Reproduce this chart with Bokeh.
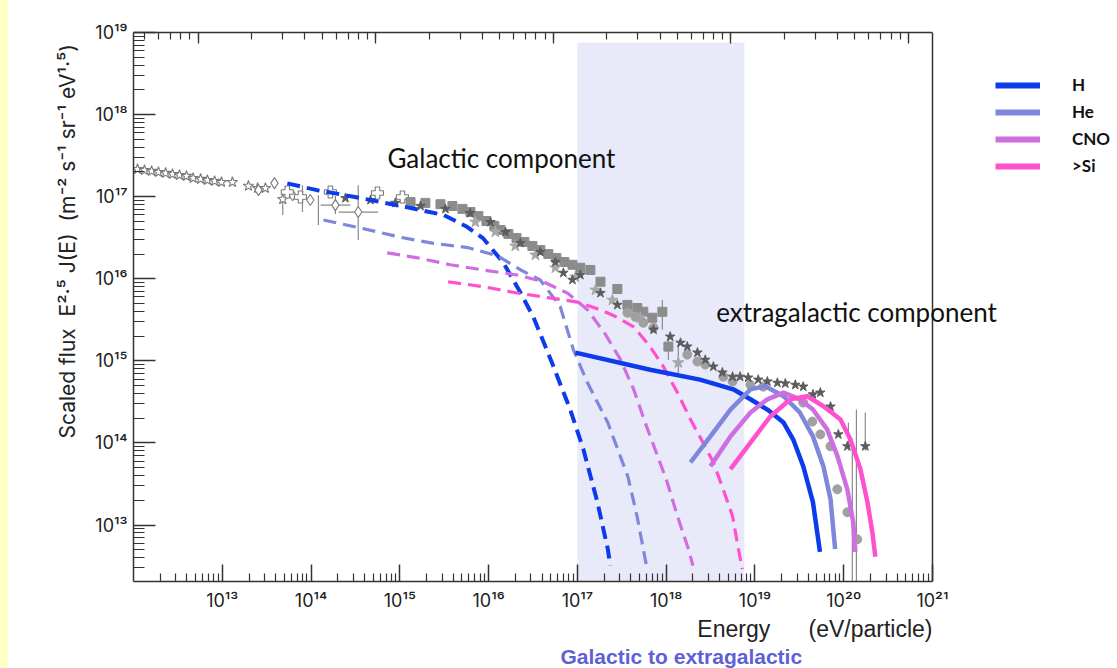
import math
from bokeh.plotting import figure
from bokeh.models import (LogAxis, FixedTicker, Range1d, LogScale, BoxAnnotation, Label, Span, Title,
                          Legend, LegendItem, CustomJSTickFormatter, Div, LogTicker)
from bokeh.layouts import row
from bokeh.embed import file_html
from bokeh.resources import INLINE

# ---------------- data (E in eV, scaled flux E^2.5 J(E)) ----------------
# Galactic components (dashed)
E_H_gal = [5.4e13, 1.17e14, 3.0e14, 1.02e15, 3.1e15, 5.7e15, 8.7e15, 1.47e16, 2.3e16, 3.2e16, 5.0e16, 8.3e16, 1.17e17, 1.68e17, 2.2e17, 2.35e17]
F_H_gal = [1.45e17, 1.20e17, 1.0e17, 7.7e16, 6.0e16, 4.3e16, 3.1e16, 1.56e16, 6.7e15, 3.4e15, 1.04e15, 2.55e14, 8.3e13, 1.9e13, 5.1e12, 3.2e12]
E_He_gal = [1.38e14, 3.6e14, 1.02e15, 2.4e15, 5.8e15, 1.26e16, 2.3e16, 3.8e16, 6.4e16, 9.0e16, 1.3e17, 2.2e17, 3.7e17, 4.7e17, 6.1e17]
F_He_gal = [5.2e16, 4.15e16, 3.2e16, 2.7e16, 2.4e16, 1.9e16, 1.28e16, 9.7e15, 4.6e15, 1.37e15, 5.4e14, 1.77e14, 3.9e13, 1.28e13, 2.9e12]
E_CNO_gal = [7.2e14, 1.58e15, 3.7e15, 8.7e15, 2.1e16, 4.1e16, 7.7e16, 1.3e17, 2.07e17, 3.05e17, 4.3e17, 5.8e17, 8.0e17, 1.03e18, 1.34e18, 1.78e18, 2.0e18]
F_CNO_gal = [2.07e16, 1.8e16, 1.48e16, 1.28e16, 1.11e16, 9.2e15, 6.7e15, 4.2e15, 2.1e15, 1.04e15, 4.5e14, 1.77e14, 6.9e13, 3.3e13, 1.28e13, 5.1e12, 3.2e12]
E_Si_gal = [3.5e15, 8.7e15, 2.1e16, 4.6e16, 1.0e17, 1.8e17, 2.8e17, 4.3e17, 6.6e17, 9.3e17, 1.34e18, 1.88e18, 2.6e18, 3.4e18, 4.4e18, 5.6e18, 6.3e18, 7.2e18]
F_Si_gal = [9.2e15, 8.0e15, 6.7e15, 5.9e15, 5.2e15, 4.2e15, 3.4e15, 2.6e15, 1.49e15, 8.5e14, 4.1e14, 1.93e14, 1.01e14, 5.8e13, 2.7e13, 1.28e13, 6.2e12, 2.9e12]

# Extragalactic components (solid)
E_H_ex = [9.5e16, 6.6e17, 2.4e18, 5.7e18, 8.9e18, 1.38e19, 2.1e19, 2.7e19, 3.5e19, 4.5e19, 5.4e19]
F_H_ex = [1.26e15, 7.8e14, 5.9e14, 4.5e14, 3.4e14, 2.55e14, 1.77e14, 1.1e14, 5.2e13, 1.9e13, 4.7e12]
E_He_ex = [1.88e18, 3.15e18, 5.3e18, 8.9e18, 1.31e19, 2.1e19, 3.2e19, 4.5e19, 5.9e19, 7.1e19, 8.0e19]
F_He_ex = [5.8e13, 1.2e14, 2.55e14, 4.5e14, 4.9e14, 3.7e14, 2.35e14, 1.2e14, 5.2e13, 2.06e13, 5.1e12]
E_CNO_ex = [3.15e18, 5.3e18, 8.9e18, 1.38e19, 2.1e19, 3.2e19, 4.5e19, 6.5e19, 8.5e19, 1.1e20, 1.28e20, 1.35e20]
F_CNO_ex = [5.2e13, 1.2e14, 2.35e14, 3.4e14, 4.1e14, 3.4e14, 2.55e14, 1.46e14, 6.9e13, 2.7e13, 1.08e13, 4.7e12]
E_Si_ex = [5.3e18, 8.9e18, 1.49e19, 2.5e19, 3.9e19, 5.9e19, 9.2e19, 1.19e20, 1.54e20, 1.85e20, 2.1e20, 2.27e20]
F_Si_ex = [4.8e13, 1.01e14, 2.1e14, 3.4e14, 3.7e14, 2.8e14, 1.93e14, 1.1e14, 4.8e13, 1.9e13, 8.2e12, 4.1e12]

# Measurements (grey markers)
E_open_star = [1.11e12, 1.33e12, 1.6e12, 1.91e12, 2.3e12, 2.75e12, 3.3e12, 3.95e12, 4.7e12, 5.7e12, 6.8e12, 8.2e12, 9.8e12, 1.3e13, 1.97e13, 2.5e13, 3.06e13, 4.8e13]
F_open_star = [2.16e17, 2.1e17, 2.05e17, 1.99e17, 1.94e17, 1.88e17, 1.83e17, 1.78e17, 1.68e17, 1.64e17, 1.59e17, 1.55e17, 1.5e17, 1.5e17, 1.35e17, 1.27e17, 1.27e17, 9.3e16]
E_open_diamond = [2.56e13, 3.87e13, 6.2e13, 9.8e13, 1.88e14, 3.4e14]
F_open_diamond = [1.2e17, 1.46e17, 1.04e17, 9.1e16, 7.9e16, 6.5e16]
E_open_cross = [5.4e13, 7.6e13, 1.65e14, 5.6e14, 1.07e15]
F_open_cross = [1.14e17, 9.9e16, 1.14e17, 1.11e17, 9.9e16]
E_star = [2.44e14, 4.67e14, 8.9e14, 1.71e15, 3.26e15, 6.2e15, 1.05e16, 1.55e16, 2.28e16, 3.83e16, 5.65e16, 6.95e16, 8.8e16, 1.08e17, 1.82e17, 2.82e17, 7.2e17, 1.11e18, 1.45e18, 1.73e18, 2.25e18, 2.76e18, 3.4e18, 4.3e18, 5.6e18, 6.8e18, 8.4e18, 1.09e19, 1.38e19, 1.79e19, 2.2e19, 2.85e19, 3.5e19, 4.5e19, 5.45e19, 7.1e19, 8.7e19, 1.1e20, 1.75e20]
F_star = [9.6e16, 9.1e16, 8.4e16, 7.7e16, 7.1e16, 6.3e16, 4.9e16, 3.7e16, 2.73e16, 2.12e16, 1.6e16, 1.18e16, 9.7e15, 1.11e16, 6.7e15, 4.8e15, 2.4e15, 1.97e15, 1.66e15, 1.49e15, 1.26e15, 1.03e15, 8.5e14, 7.2e14, 6.4e14, 6.4e14, 6.25e14, 5.9e14, 5.6e14, 5.4e14, 5.3e14, 5.1e14, 4.85e14, 3.9e14, 4.1e14, 2.77e14, 1.27e14, 9.1e13, 9.1e13]
E_light_star = [7.1e15, 1.19e16, 2.0e16, 3.37e16, 5.65e16, 9.5e16, 1.6e17, 2.48e17, 5.1e17, 1.37e18]
F_light_star = [4.9e16, 3.72e16, 2.51e16, 1.95e16, 1.36e16, 1.05e16, 7.3e15, 5.5e15, 3.35e15, 9.5e14]
E_square = [1.32e15, 1.94e15, 2.87e15, 3.91e15, 5.07e15, 6.24e15, 7.67e15, 9.44e15, 1.16e16, 1.36e16, 1.67e16, 2.06e16, 2.53e16, 3.11e16, 3.83e16, 4.71e16, 5.8e16, 7.13e16, 8.8e16, 1.08e17, 1.4e17, 1.82e17, 2.82e17, 3.66e17, 4.73e17, 5.53e17, 6.98e17, 9.06e17, 1.06e18]
F_square = [8.6e16, 8.4e16, 8.1e16, 7.7e16, 7.1e16, 6.5e16, 5.8e16, 5.05e16, 4.4e16, 3.93e16, 3.51e16, 3.14e16, 2.81e16, 2.51e16, 2.24e16, 2.0e16, 1.79e16, 1.6e16, 1.48e16, 1.36e16, 1.28e16, 9.2e15, 7.5e15, 4.8e15, 4.4e15, 3.96e15, 3.35e15, 3.96e15, 1.49e15]
E_circle = [3.66e17, 4.5e17, 5.53e17, 7.2e17, 1.73e18, 2.25e18, 2.76e18, 4.41e18, 5.6e18, 8.87e18, 1.24e19, 3.5e19, 4.43e19, 5.45e19, 7.1e19, 8.47e19, 1.1e20, 1.42e20]
F_circle = [3.85e15, 3.44e15, 2.91e15, 2.53e15, 1.19e15, 9.8e14, 9.0e14, 6.4e14, 5.6e14, 5.1e14, 4.85e14, 3.1e14, 1.82e14, 1.27e14, 9.1e13, 2.72e13, 1.43e13, 6.7e12]
# vertical error bars: energy, flux low, flux high
E_err = [4.8e13, 8.0e13, 1.21e14, 1.88e14, 3.4e14, 9.06e17, 1.06e18, 1.37e18, 1.13e20, 1.25e20, 1.39e20, 1.75e20]
F_err_lo = [5.97e16, 6.5e16, 4.52e16, 6.15e16, 2.97e16, 2.4e15, 1.03e15, 6.8e14, 8.1e13, 2.0e12, 2.0e12, 8.1e13]
F_err_hi = [1.04e17, 1.38e17, 1.04e17, 1.02e17, 1.38e17, 5.5e15, 1.97e15, 1.57e15, 1.77e14, 1.1e14, 2.55e14, 2.34e14]
# horizontal error bars: flux, energy low, energy high
F_xerr = [7.9e16, 6.5e16]
E_xerr_lo = [1.28e14, 2.04e14]
E_xerr_hi = [2.78e14, 5.7e14]

# transition band (Galactic to extragalactic)
band_E_lo, band_E_hi, band_F_top = 1.0e17, 7.6e18, 7.55e18

species = ["H", "He", "CNO", ">Si"]
colors = ["#0b3beb", "#7f87db", "#cf6ee0", "#ff50cf"]

# axis extent
x_start, x_end = 1.0e12, 1.0e21
y_start, y_end = 2.05e12, 1.0e19
sqrt_s_factor = 1.876e9  # 2 m_p c^2 [eV] -> sqrt(s) scale on the top axis

FONT = "Liberation Sans"
TICKFONT = "Inter"
AXC = "#333333"

# layout (pixels)
FIG_W, FIG_H = 1109, 668
BORDER_L, BORDER_T, BORDER_B = 125, 32, 85
AXES_W = 799                       # width of the boxed plot area
frame_w = FIG_W - BORDER_L         # frame extends to the right edge (legend / text area)
view_end = x_end * 10 ** (math.log10(x_end / x_start) * (frame_w - AXES_W) / AXES_W)

p = figure(width=FIG_W, height=FIG_H, output_backend="svg", toolbar_location=None,
           x_axis_type="log", y_axis_type="log",
           x_range=Range1d(x_start, view_end), y_range=Range1d(y_start, y_end),
           min_border_left=BORDER_L, min_border_right=0, min_border_top=BORDER_T, min_border_bottom=BORDER_B,
           background_fill_color="white", border_fill_color="white", outline_line_color=None)
p.grid.visible = False

sup_code = """
const sup = {"0":"\u2070","1":"\u00b9","2":"\u00b2","3":"\u00b3","4":"\u2074","5":"\u2075","6":"\u2076","7":"\u2077","8":"\u2078","9":"\u2079","-":"\u207b"};
const e = Math.round(Math.log10(tick));
return "10" + String(e).split("").map(c => sup[c]).join("");
"""

def decade_ticks(lo, hi):
    majors = [10.0 ** k for k in range(lo, hi + 1)]
    minors = [m * 10.0 ** k for k in range(lo - 1, hi) for m in range(2, 10)]
    return majors, minors

xm, xn = decade_ticks(13, 21)
ym, yn = decade_ticks(13, 19)

xa = p.xaxis[0]
xa.ticker = FixedTicker(ticks=xm, minor_ticks=xn)
xa.formatter = CustomJSTickFormatter(code=sup_code)
xa.bounds = (x_start, x_end)
ya = p.yaxis[0]
ya.ticker = FixedTicker(ticks=ym, minor_ticks=yn)
ya.formatter = CustomJSTickFormatter(code=sup_code)

for ax, maj, mnr in ((xa, 17, 8), (ya, 22, 11)):
    ax.major_tick_in = maj
    ax.major_tick_out = 0
    ax.minor_tick_in = mnr
    ax.minor_tick_out = 0
    ax.axis_line_color = AXC
    ax.axis_line_width = 1.5
    ax.major_tick_line_color = AXC
    ax.minor_tick_line_color = AXC
    ax.major_tick_line_width = 1.5
    ax.minor_tick_line_width = 1.2
    ax.major_label_text_font = TICKFONT
    ax.major_label_text_font_size = "18px"
    ax.major_label_text_color = "#222222"
xa.major_label_standoff = 8
ya.major_label_standoff = 6

# top axis: sqrt(s) scale, ticks only
top_lo, top_hi = math.sqrt(sqrt_s_factor * x_start), math.sqrt(sqrt_s_factor * x_end)
p.extra_x_ranges = {"top": Range1d(top_lo, math.sqrt(sqrt_s_factor * view_end))}
p.extra_x_scales = {"top": LogScale()}
top = LogAxis(x_range_name="top", ticker=LogTicker(num_minor_ticks=10), bounds=(top_lo, top_hi),
              formatter=CustomJSTickFormatter(code="return ''"),
              major_tick_in=11, major_tick_out=0, minor_tick_in=7, minor_tick_out=0,
              axis_line_color=AXC, axis_line_width=1.5,
              major_tick_line_color=AXC, minor_tick_line_color=AXC,
              major_tick_line_width=1.3, minor_tick_line_width=1.2,
              major_label_standoff=0, major_label_text_font_size="1px")
p.add_layout(top, "above")

# right-hand border of the plot box
p.add_layout(Span(location=x_end, dimension="height", line_color=AXC, line_width=1.5))

# shaded transition band
p.add_layout(BoxAnnotation(left=band_E_lo, right=band_E_hi, top=band_F_top,
                           fill_color="#e8eafa", fill_alpha=1.0, line_color=None, level="underlay"))

# measurements
p.segment(E_err, F_err_lo, E_err, F_err_hi, line_color="#8a8a8a", line_width=1.2)
p.segment(E_xerr_lo, F_xerr, E_xerr_hi, F_xerr, line_color="#8a8a8a", line_width=1.2)
p.scatter(E_open_star, F_open_star, marker="star", size=11, fill_color="white", line_color="#7a7a7a", line_width=1.1)
p.scatter(E_open_diamond, F_open_diamond, marker="diamond", size=11, fill_color="white", line_color="#7a7a7a", line_width=1.1)
p.scatter(E_open_cross, F_open_cross, marker="plus", size=12, fill_color="white", line_color="#7a7a7a", line_width=1.1)
p.scatter(E_square, F_square, marker="square", size=9, fill_color="#8c8c8c", line_color="#8c8c8c")
p.scatter(E_light_star, F_light_star, marker="star", size=12, fill_color="#a8a8a8", line_color="#a8a8a8")
p.scatter(E_circle, F_circle, marker="circle", size=9, fill_color="#a0a0a0", line_color="#a0a0a0")
p.scatter(E_star, F_star, marker="star", size=10, fill_color="#5c5c5c", line_color="#5c5c5c")

# model curves
gal = [(E_H_gal, F_H_gal, 4), (E_He_gal, F_He_gal, 3.2), (E_CNO_gal, F_CNO_gal, 3.2), (E_Si_gal, F_Si_gal, 3.2)]
exg = [(E_H_ex, F_H_ex), (E_He_ex, F_He_ex), (E_CNO_ex, F_CNO_ex), (E_Si_ex, F_Si_ex)]
for (ex, fy, w), c in zip(gal, colors):
    p.line(ex, fy, line_color=c, line_width=w, line_dash="13 7")
for (ex, fy), c in zip(exg, colors):
    p.line(ex, fy, line_color=c, line_width=4.5)

# legend (right of the plot box); swatch renderers hold one point each, so they draw nothing
items = []
for name, c, (ex, fy) in zip(species, colors, exg):
    r = p.line(x=ex[:1], y=fy[:1], line_color=c, line_width=6)
    items.append(LegendItem(label=name, renderers=[r]))
legend = Legend(items=items, location=(862, 405), padding=0, margin=0, spacing=6,
                glyph_width=45, glyph_height=20, label_height=20, label_standoff=32,
                border_line_color=None, background_fill_alpha=0,
                label_text_font="Lato", label_text_font_style="bold", label_text_font_size="17px",
                label_text_color="#111111")
p.add_layout(legend)

# texts inside the drawing area
p.add_layout(Label(x=7.25e14, y=2.94e17, text="Galactic component", text_font="Lato",
                   text_font_size="26px", text_baseline="middle", text_color="#111111"))
p.add_layout(Label(x=3.67e18, y=3.96e15, text="extragalactic component", text_font="Lato",
                   text_font_size="26px", text_baseline="middle", text_color="#111111"))

# axis titles
p.add_layout(Title(text="Scaled flux\u00a0\u00a0E\u00b2\u00b7\u2075 J(E)\u00a0\u00a0(m\u207b\u00b2 s\u207b\u00b9 sr\u207b\u00b9 eV\u00b9\u00b7\u2075)",
                   align="left", offset=143, standoff=26, text_font=TICKFONT, text_font_size="21px",
                   text_font_style="normal", text_color="#222222"), "left")
p.add_layout(Title(text="Energy\u00a0\u00a0\u00a0\u00a0\u00a0\u00a0(eV/particle)", align="right",
                   offset=(frame_w - AXES_W), standoff=0, text_font=FONT, text_font_size="23px",
                   text_font_style="normal", text_color="#222222"), "below")
p.add_layout(Title(text="Galactic to extragalactic", align="left", offset=427, standoff=2,
                   text_font=FONT, text_font_size="21px", text_font_style="bold", text_color="#5f5fd6"), "below")

strip = Div(text="", width=8, height=FIG_H, styles={"background-color": "#fffec4", "margin": "0", "padding": "0"})
layout = row(strip, p, spacing=0)

open("out.html", "w").write(file_html(layout, INLINE))
